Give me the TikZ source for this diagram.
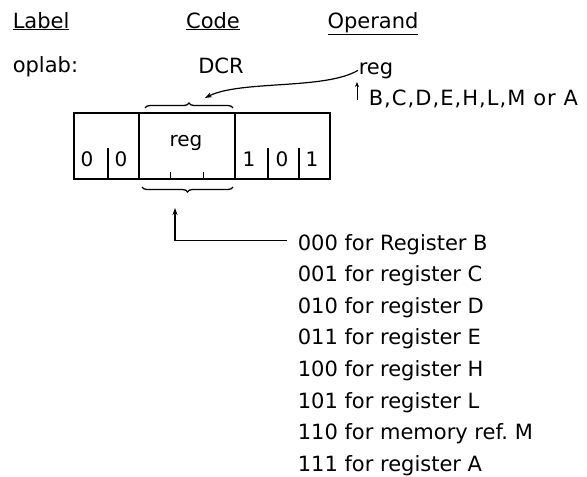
\documentclass[tikz,border=0pt]{standalone}
\usepackage{fontspec}
\setmainfont{DejaVu Sans}
\usetikzlibrary{arrows.meta, decorations.pathreplacing, positioning}
\tikzset{
  txt/.style={inner sep=0pt, anchor=base west, font=\fontsize{21}{25}\selectfont},
  head/.style={txt, anchor=base},
  bit/.style={inner sep=0pt, anchor=base, font=\fontsize{20}{24}\selectfont},
  arr/.style={line width=1.2pt, -{Stealth[length=7pt,width=5pt]}},
  brc/.style={line width=1.3pt, decorate, decoration={brace, amplitude=5pt}}
}

\begin{document}
\begin{tikzpicture}[x=1pt, y=-1pt, line width=1.6pt]
  \useasboundingbox (0,0) rectangle (587,477);
  % headings
  \node[txt] (label) at (12,28) {\underline{Label}};
  \node[head] (code) at (213,28) {\underline{Code}};
  \node[head] (operand) at (373,28) {\underline{Operand}};
  \node[txt] (oplab) at (12,72) {oplab:};
  \node[head] (dcr) at (221,73) {DCR};
  \node[txt] (reg) at (358,74) {reg};
  \node[txt] (regnames) at (368,105) {\addfontfeature{LetterSpace=5}B,C,D,E,H,L,M or A};

  % instruction byte
  \draw (74,113) rectangle (330,179);
  \draw (139,113) -- (139,179);
  \draw (235,113) -- (235,179);
  \foreach \x in {108,268,299} \draw (\x,148) -- (\x,179);
  \foreach \x in {170,203} \draw[line width=1pt] (\x,172) -- (\x,179);
  \node[bit] (b7) at (87,166) {0};
  \node[bit] (b6) at (121,166) {0};
  \node[bit] (bfield) at (186,146) {reg};
  \node[bit] (b2) at (249,166) {1};
  \node[bit] (b1) at (282,166) {0};
  \node[bit] (b0) at (312,166) {1};
  \draw[brc] (145,108) -- (233,108);
  \draw[brc] (233,187) -- (142,187);

  % codes
  \foreach \code/\what [count=\i from 0] in {000/Register B, 001/register C, 010/register D,
      011/register E, 100/register H, 101/register L, 110/memory ref.\ M, 111/register A}
    \node[txt] (l\i) at (297,{250+31.6*\i}) {\code\ for \what};

  % connectors
  \coordinate (regtip) at (205,98);
  \coordinate (bctail) at (357,100);
  \coordinate (bchead) at (357,82);
  \coordinate (btip) at (175,208);
  \draw[arr] (reg.west) .. controls (325,90) and (240,80) .. (regtip);
  \draw[arr, line width=0.9pt, -{Stealth[length=5pt,width=4pt]}] (bctail) -- (bchead);
  \draw[arr] ([xshift=-10pt, yshift=4pt]l0.west) -| (btip);
\end{tikzpicture}
\end{document}
